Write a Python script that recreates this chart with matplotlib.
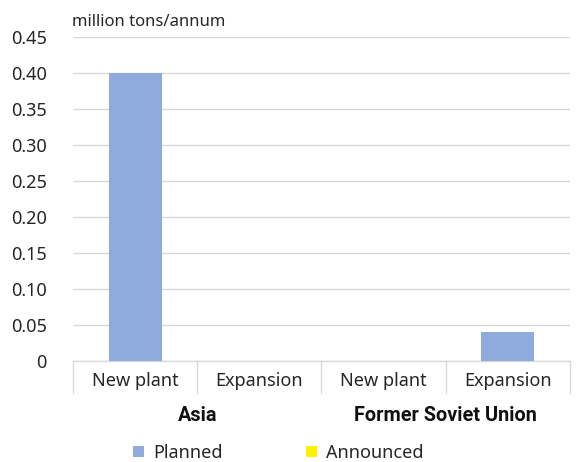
import matplotlib
matplotlib.use("Agg")
import matplotlib.pyplot as plt
from matplotlib.patches import Patch
from matplotlib.transforms import blended_transform_factory
import numpy as np

plt.rcParams["font.family"] = ["Noto Sans", "DejaVu Sans"]

regions = ["Asia", "Former Soviet Union"]
types = ["New plant", "Expansion"]
planned = [0.40, 0.0, 0.0, 0.04]
announced = [0.0, 0.0, 0.0, 0.0]
yticks = [0, 0.05, 0.10, 0.15, 0.20, 0.25, 0.30, 0.35, 0.40, 0.45]
ytick_labels = ["0", "0.05", "0.10", "0.15", "0.20", "0.25", "0.30", "0.35", "0.40", "0.45"]

BLUE = "#8FAADC"
YELLOW = "#FFF200"
GRID = "#D9D9D9"
TEXT = "#262626"

fig = plt.figure(figsize=(5.76, 4.62), dpi=100)
ax = fig.add_axes([0.127, 0.219, 0.862, 0.701])

x = np.arange(len(planned))
ax.bar(x, planned, width=0.43, color=BLUE, zorder=3)
ax.bar(x, announced, width=0.43, bottom=planned, color=YELLOW, zorder=3)

ax.set_xlim(-0.5, len(planned) - 0.5)
ax.set_ylim(0, 0.45)
ax.set_yticks(yticks)
ax.set_yticklabels(ytick_labels, fontsize=13, color=TEXT)
ax.yaxis.grid(True, color=GRID, linewidth=1.0, zorder=0)
ax.tick_params(axis="y", length=0, pad=19)
ax.set_xticks([])
for side in ("top", "right", "left"):
    ax.spines[side].set_visible(False)
ax.spines["bottom"].set_color(GRID)
ax.spines["bottom"].set_linewidth(1.0)

# two-level category axis: type labels, then region labels
trans = blended_transform_factory(ax.transData, ax.transAxes)
for i in range(len(planned)):
    ax.text(i, -0.061, types[i % 2], transform=trans, ha="center", va="center",
            fontsize=13, color=TEXT)
for g, name in enumerate(regions):
    ax.text(2 * g + 0.5, -0.17, name, transform=trans, ha="center", va="center",
            fontsize=14.3, fontweight="bold", color="#111111",
            family=["Roboto", "DejaVu Sans"])
for b in np.arange(-0.5, len(planned), 1.0):
    ax.plot([b, b], [0, -0.099], transform=trans, color=GRID, linewidth=1.0,
            clip_on=False)

fig.text(0.125, 0.953, "million tons/annum", fontsize=12, color=TEXT,
         ha="left", va="center")

handles = [Patch(facecolor=BLUE, label="Planned"),
           Patch(facecolor=YELLOW, label="Announced")]
fig.legend(handles=handles, loc="center", bbox_to_anchor=(0.483, 0.02), ncol=2,
           frameon=False, fontsize=13, handlelength=0.6, handleheight=0.6,
           handletextpad=0.5, columnspacing=4.62, labelcolor=TEXT)

fig.savefig("out.png", dpi=100)
